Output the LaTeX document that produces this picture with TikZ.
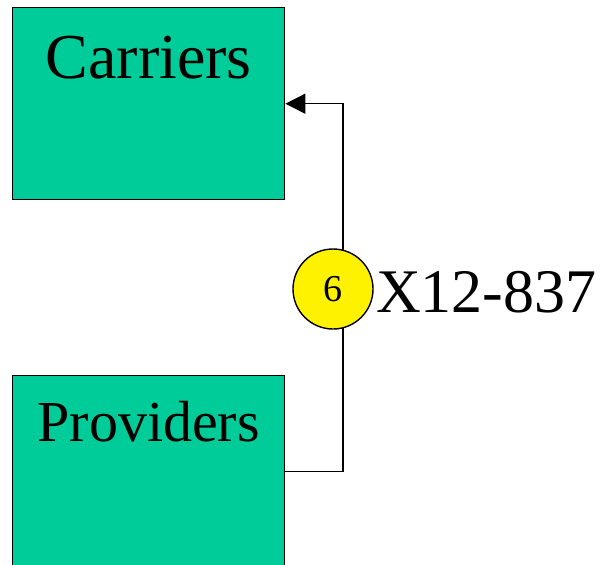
\documentclass[tikz,border=0pt]{standalone}
\usepackage{fontspec}
\setmainfont{Liberation Serif}
\usetikzlibrary{arrows.meta}
\definecolor{boxgreen}{RGB}{0,204,153}
\begin{document}
\begin{tikzpicture}[x=1pt,y=-1pt,
  box/.style={draw=black, line width=1.4pt, fill=boxgreen, rectangle, inner sep=0pt,
    minimum width=272pt, anchor=north west},
  conn/.style={draw=black, line width=1.4pt, -{Triangle[length=20pt,width=20pt]}},
  badge/.style={circle, draw=black, line width=1.4pt, fill=yellow, minimum size=80pt, inner sep=0pt,
    font=\fontsize{38}{38}\selectfont},
  lbl/.style={font=\fontsize{62}{62}\selectfont, inner sep=0pt, anchor=base west}]
\useasboundingbox (0,0) rectangle (603,565);
\clip (0,0) rectangle (603,565);
\node[box, font=\fontsize{64}{64}\selectfont, text height=71pt, text depth=121pt] (car) at (12,7) {Carriers};
\node[box, font=\fontsize{58}{58}\selectfont, text height=66pt, text depth=126pt] (prov) at (12,375) {Providers};
\draw[conn] (prov.east) -- ++(57.5,0) coordinate (bend) |- (car.east);
\node[badge] (six) at (333,289) {6};
\node[lbl] (code) at (376,312) {X12-837};
\end{tikzpicture}
\end{document}
